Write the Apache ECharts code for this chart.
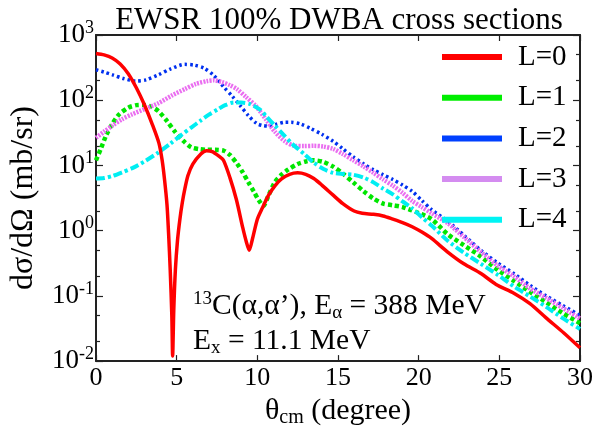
<!DOCTYPE html>
<html><head><meta charset="utf-8">
<script src="https://cdn.jsdelivr.net/npm/echarts@6/dist/echarts.min.js"></script>
<style>html,body{margin:0;padding:0;background:#fff}#c{width:596px;height:433px}</style>
</head><body><div id="c"></div>
<script>
const seriesNames = ['L=0', 'L=1', 'L=2', 'L=3', 'L=4'];

const l0Angles = [0,0.5,1.0,1.5,2.0,2.5,3.0,3.5,3.9,4.1,4.25,4.4,4.5,4.6,4.7,4.75,4.82,4.92,5.05,5.2,5.35,5.5,5.7,6.0,6.5,6.85,7.2,7.6,7.9,8.3,8.7,9.1,9.3,9.5,9.7,10.0,10.3,10.7,11.1,11.5,12.0,12.5,13.0,13.5,14.0,14.7,15.3,16.0,16.5,17.2,17.8,18.4,19.0,19.6,20.2,20.8,21.8,22.8,23.86,24.8,25.9,26.9,27.9,29.0,30.0];
const l0Values = [520,495,445,360,255,155,85,42,22,12,6,2.5,0.9,0.25,0.05,0.012,0.06,0.25,0.7,1.5,2.7,4.3,7.0,10.5,15,16.8,16.3,14,12,6.5,3,1.1,0.7,0.5,0.75,1.5,2.2,3.5,4.9,6.2,7.3,7.7,7.3,6.3,5.0,3.5,2.6,2.0,1.85,1.78,1.68,1.5,1.33,1.15,0.95,0.76,0.47,0.31,0.22,0.15,0.11,0.076,0.046,0.027,0.016];

const l1Angles = [0,0.3,0.63,1.0,1.44,2.0,2.5,2.9,3.4,3.87,4.4,4.89,5.4,5.9,6.4,6.9,7.4,7.93,8.3,8.74,9.1,9.45,9.8,10.1,10.37,10.7,11.08,11.5,11.9,12.5,13.0,13.5,14.1,14.7,15.3,15.95,16.6,17.2,17.8,18.4,19.0,19.8,20.8,21.8,22.8,23.86,24.9,25.9,26.9,27.9,28.9,30.0];
const l1Values = [12,18,29,43,61,77,84,85,80,68,48,33,24,19,17.8,17.4,17.4,16.8,14.5,10.7,7.8,5.5,3.9,2.9,2.4,3.5,5.5,7.2,8.6,10.5,11.5,12,11.3,9.6,7.5,5.5,4.0,3.1,2.6,2.45,2.3,1.95,1.5,0.88,0.6,0.4,0.25,0.17,0.115,0.08,0.055,0.038];

const l2Angles = [0,0.5,1.03,1.7,2.45,3.1,3.87,4.6,5.5,6.1,6.7,7.3,7.93,8.45,8.95,9.45,9.96,10.3,10.67,11.2,11.7,12.1,12.7,13.3,14.0,14.7,15.3,15.95,16.6,17.2,17.8,18.4,19.0,19.6,20.2,20.8,21.8,22.8,23.86,24.9,25.9,26.9,27.9,28.9,30.0];
const l2Values = [293,270,245,215,197,205,245,300,355,345,310,240,158,115,82,58,44,41,40,43,46,46,43,37,30,23.5,18,13.5,10.5,8.6,7.2,6.1,5.0,4.0,2.9,2.1,1.4,0.85,0.5,0.32,0.22,0.145,0.1,0.072,0.05];

const l3Angles = [0,0.5,1.03,1.6,2.25,3.0,3.87,4.7,5.5,6.2,6.9,7.3,7.8,8.3,8.74,9.3,9.9,10.5,11.08,11.7,12.3,12.9,13.5,14.1,14.7,15.3,15.95,16.6,17.2,17.8,18.4,19.0,19.6,20.2,20.8,21.8,22.8,23.86,24.9,25.9,26.9,27.9,28.9,30.0];
const l3Values = [26.5,33,41,51,61,73,90,118,148,178,197,202,190,170,148,112,82,52,33,23.5,20,19.8,20,19.5,17.9,15,12,9.6,7.7,6.1,4.9,3.8,2.85,2.3,1.85,1.3,0.8,0.47,0.29,0.2,0.13,0.093,0.066,0.045];

const l4Angles = [0,0.5,1.03,1.6,2.25,3.0,3.87,4.6,5.3,5.9,6.5,7.0,7.53,8.0,8.54,9.0,9.56,10.16,10.6,11.08,11.6,12.2,12.9,13.5,14.1,14.7,15.3,15.95,16.6,17.2,17.8,18.4,19.0,19.6,20.2,20.8,21.8,22.8,23.86,24.9,25.9,26.9,27.9,28.9,30.0];
const l4Values = [6.3,6.4,6.9,7.8,9.1,11.5,15.8,21.5,29.5,38,49,60,72,84,92,92,87,72,55,41,30,21,15,11,8.8,7.7,7.4,7.2,6.5,5.5,4.4,3.6,2.8,2.2,1.6,1.2,0.7,0.46,0.31,0.21,0.14,0.098,0.068,0.046,0.031];

const xTickValues = [0, 5, 10, 15, 20, 25, 30];
const yMajorTicks = [0.01, 0.1, 1, 10, 100, 1000];
const yMinorTicks = [0.02, 0.05, 0.2, 0.5, 2, 5, 20, 50, 200, 500];

const FONT = 'Liberation Serif';
const pair = (xs, ys) => xs.map((x, i) => [x, ys[i]]);

const seriesData = [
  pair(l0Angles, l0Values),
  pair(l1Angles, l1Values),
  pair(l2Angles, l2Values),
  pair(l3Angles, l3Values),
  pair(l4Angles, l4Values)
];
const seriesColors = ['#ff0000', '#00e600', '#0030f0', '#ea6ef0', '#00eef2'];
const legendColors = ['#ff0000', '#00ee00', '#0040ff', '#d48cf0', '#00f4f4'];
const lineStyles = [
  {width: 3.5, type: 'solid'},
  {width: 4.5, type: [4, 3]},
  {width: 3.5, type: [2.5, 3]},
  {width: 4.5, type: [2, 1.2]},
  {width: 4, type: [9, 3, 3, 3]}
];

const chart = echarts.init(document.getElementById('c'), null, {renderer: 'canvas'});

const baseY = {
  type: 'log', logBase: 10, min: 0.01, max: 1000,
  splitLine: {show: false}
};

const supFmt = v => {
  const e = Math.round(Math.log10(v));
  return '{b|10}{s|' + e + '}';
};

// Legend key (swatch + label), laid out as a vertical list
const LEG_X = 442, LEG_Y0 = 57, LEG_STEP = 40.7;
const legendGraphics = [];
seriesNames.forEach((n, i) => {
  const cy = LEG_Y0 + i * LEG_STEP;
  legendGraphics.push({
    type: 'rect', shape: {x: LEG_X, y: cy - 3, width: 60, height: 6},
    style: {fill: legendColors[i]}, z: 10
  });
  legendGraphics.push({
    type: 'text', x: LEG_X + 76, y: cy, z: 10,
    style: {text: n, fontFamily: FONT, fontSize: 29, fill: '#000', verticalAlign: 'middle'}
  });
});

const curveSeries = seriesNames.map((n, i) => ({
  name: n, type: 'line', xAxisIndex: 0, yAxisIndex: 0,
  data: seriesData[i],
  showSymbol: false, symbol: 'none', smooth: 0.25,
  color: seriesColors[i],
  lineStyle: Object.assign({color: seriesColors[i], cap: 'butt', join: 'round'}, lineStyles[i]),
  z: i === 0 ? 5 : 2
}));

const option = {
  animation: false,
  backgroundColor: '#fff',
  title: {
    text: 'EWSR 100% DWBA cross sections',
    left: 334, top: 0, textAlign: 'center',
    textStyle: {fontFamily: FONT, fontSize: 31, fontWeight: 'normal', color: '#000'}
  },
  grid: {left: 88, right: 15, top: 35, bottom: 55, containLabel: false},
  xAxis: [
    {
      type: 'value', min: 0, max: 30, position: 'bottom',
      name: '{t|θ}{sub|cm}{t| (degree)}', nameLocation: 'middle', nameGap: 20,
      nameTextStyle: {
        rich: {
          t: {fontFamily: FONT, fontSize: 30, color: '#000'},
          sub: {fontFamily: FONT, fontSize: 20, color: '#000', padding: [14, 0, 0, 0]}
        }
      },
      axisLine: {lineStyle: {color: '#222', width: 2}},
      axisTick: {inside: true, length: 6, lineStyle: {color: '#222', width: 1.2}, customValues: xTickValues},
      axisLabel: {customValues: xTickValues, margin: 4, fontFamily: FONT, fontSize: 26, color: '#000'},
      splitLine: {show: false}
    },
    {
      type: 'value', min: 0, max: 30, position: 'top',
      axisLine: {lineStyle: {color: '#222', width: 2}},
      axisTick: {inside: true, length: 6, lineStyle: {color: '#222', width: 1.2}, customValues: xTickValues},
      axisLabel: {show: false},
      splitLine: {show: false}
    }
  ],
  yAxis: [
    Object.assign({}, baseY, {
      position: 'left',
      name: 'dσ/dΩ (mb/sr)', nameLocation: 'middle', nameRotate: 90, nameGap: 56,
      nameTextStyle: {fontFamily: FONT, fontSize: 32, color: '#000'},
      axisLine: {show: true, lineStyle: {color: '#222', width: 2}},
      axisTick: {inside: true, length: 7, lineStyle: {color: '#222', width: 1.2}, customValues: yMajorTicks},
      axisLabel: {
        customValues: yMajorTicks, margin: 2, formatter: supFmt,
        rich: {
          b: {fontFamily: FONT, fontSize: 27, color: '#000'},
          s: {fontFamily: FONT, fontSize: 18, color: '#000', padding: [0, 0, 14, 0]}
        }
      }
    }),
    Object.assign({}, baseY, {
      position: 'left',
      axisLine: {show: false},
      axisTick: {inside: true, length: 4, lineStyle: {color: '#222', width: 1.2}, customValues: yMinorTicks},
      axisLabel: {show: false}
    }),
    Object.assign({}, baseY, {
      position: 'right',
      axisLine: {show: true, lineStyle: {color: '#222', width: 2}},
      axisTick: {inside: true, length: 7, lineStyle: {color: '#222', width: 1.2}, customValues: yMajorTicks},
      axisLabel: {show: false}
    }),
    Object.assign({}, baseY, {
      position: 'right',
      axisLine: {show: false},
      axisTick: {inside: true, length: 4, lineStyle: {color: '#222', width: 1.2}, customValues: yMinorTicks},
      axisLabel: {show: false}
    })
  ],
  graphic: [
    {
      type: 'text', x: 193, y: 306,
      style: {
        text: '{sup|13}{t|C(α,α’), E}{sub|α}{t| = 388 MeV}',
        verticalAlign: 'middle',
        rich: {
          t: {fontFamily: FONT, fontSize: 29.5, fill: '#000'},
          sup: {fontFamily: FONT, fontSize: 19, fill: '#000', padding: [0, 0, 14, 0]},
          sub: {fontFamily: FONT, fontSize: 19, fill: '#000', padding: [14, 0, 0, 0]}
        }
      }
    },
    {
      type: 'text', x: 193, y: 341,
      style: {
        text: '{t|E}{sub|x}{t| = 11.1 MeV}',
        verticalAlign: 'middle',
        rich: {
          t: {fontFamily: FONT, fontSize: 29.5, fill: '#000'},
          sub: {fontFamily: FONT, fontSize: 19, fill: '#000', padding: [14, 0, 0, 0]}
        }
      }
    }
  ].concat(legendGraphics),
  series: curveSeries
};

chart.setOption(option);
</script>
</body></html>
